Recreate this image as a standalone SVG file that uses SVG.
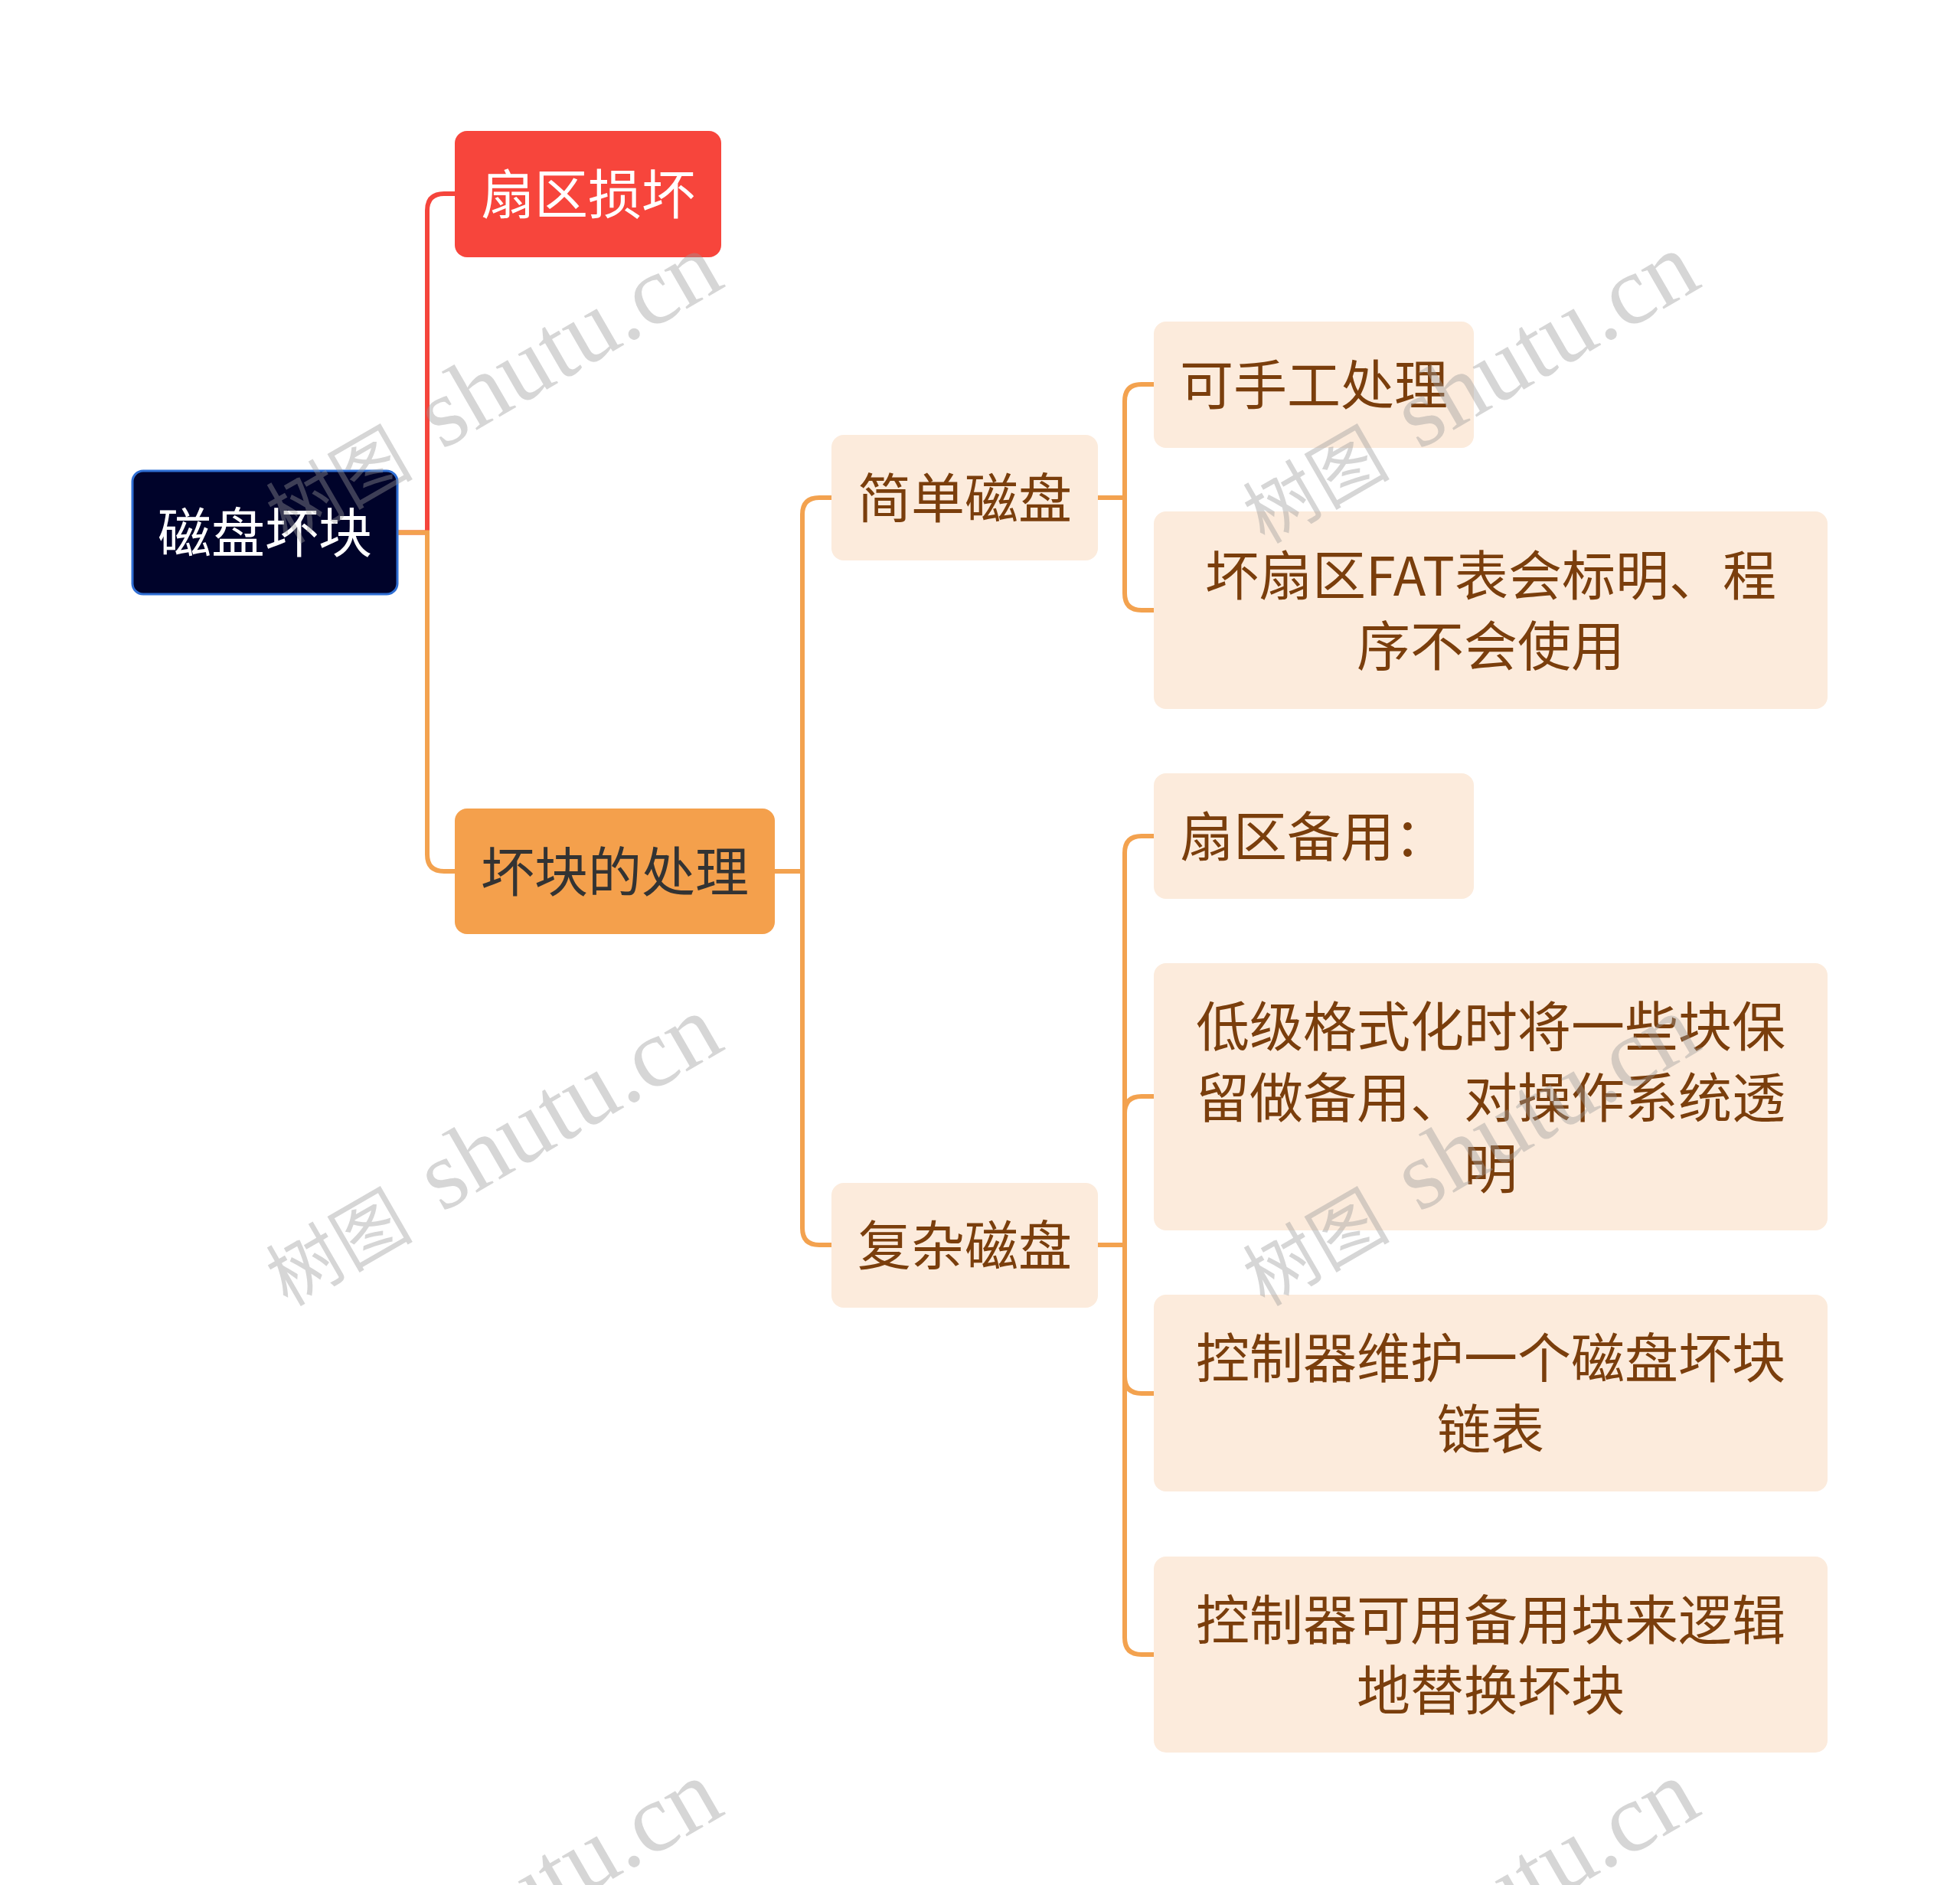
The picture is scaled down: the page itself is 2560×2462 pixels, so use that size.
<svg xmlns="http://www.w3.org/2000/svg" width="2560" height="2462" viewBox="0 0 2560 2462">
<style>
.t{font-family:"Noto Sans CJK SC","Noto Sans",sans-serif;font-size:70px;text-anchor:middle;dominant-baseline:central}
.leaf{fill:#FCEBDC}
.lt{fill:#7A3E0C}
.c{fill:none;stroke:#F3A24F;stroke-width:6}
.wm{fill:#999999;fill-opacity:0.4}
.wmc{font-family:"Liberation Serif","Noto Sans CJK SC",serif;font-size:96px;text-anchor:end}
.wml{font-family:"Liberation Serif",serif;font-size:128px}
</style>
<rect width="2560" height="2462" fill="#ffffff"/>
<g id="connectors">
<path d="M519 695.5 H558 V275 Q558 253 580 253 H594" fill="none" stroke="#F5453C" stroke-width="6"/>
<path class="c" d="M519 695.5 H558 V1116 Q558 1138 580 1138 H594"/>
<path class="c" d="M1012 1138 H1048 V672 Q1048 650 1070 650 H1086"/>
<path class="c" d="M1012 1138 H1048 V1604 Q1048 1626 1070 1626 H1086"/>
<path class="c" d="M1434 650 H1469 V524 Q1469 502 1491 502 H1507"/>
<path class="c" d="M1434 650 H1469 V775 Q1469 797 1491 797 H1507"/>
<path class="c" d="M1434 1626 H1469 V1114 Q1469 1092 1491 1092 H1507"/>
<path class="c" d="M1434 1626 H1469 V1454 Q1469 1432 1491 1432 H1507"/>
<path class="c" d="M1434 1626 H1469 V1798 Q1469 1820 1491 1820 H1507"/>
<path class="c" d="M1434 1626 H1469 V2139 Q1469 2161 1491 2161 H1507"/>
</g>
<g id="root">
<rect x="173" y="615" width="346" height="161" rx="14" fill="#00032A" stroke="#2F6ED3" stroke-width="3"/>
<text class="t" x="346" y="691" fill="#ffffff">磁盘坏块</text>
</g>
<g id="n-sector">
<rect x="594" y="171" width="348" height="165" rx="16" fill="#F7453C"/>
<text class="t" x="768" y="249" fill="#ffffff">扇区损坏</text>
</g>
<g id="n-handle">
<rect x="594" y="1056" width="418" height="164" rx="16" fill="#F4A04C"/>
<text class="t" x="803" y="1134" fill="#333333">坏块的处理</text>
</g>
<g id="n-simple">
<rect class="leaf" x="1086" y="568" width="348" height="164" rx="16"/>
<text class="t lt" x="1260" y="646">简单磁盘</text>
</g>
<g id="n-complex">
<rect class="leaf" x="1086" y="1545" width="348" height="163" rx="16"/>
<text class="t lt" x="1260" y="1622">复杂磁盘</text>
</g>
<g id="n-manual">
<rect class="leaf" x="1507" y="420" width="418" height="165" rx="16"/>
<text class="t lt" x="1716" y="498">可手工处理</text>
</g>
<g id="n-fat">
<rect class="leaf" x="1507" y="668" width="880" height="258" rx="16"/>
<text class="t lt" x="1947" y="747">坏扇区FAT表会标明、程</text>
<text class="t lt" x="1947" y="839">序不会使用</text>
</g>
<g id="n-spare">
<rect class="leaf" x="1507" y="1010" width="418" height="164" rx="16"/>
<text class="t lt" x="1716" y="1088">扇区备用：</text>
</g>
<g id="n-lowfmt">
<rect class="leaf" x="1507" y="1258" width="880" height="349" rx="16"/>
<text class="t lt" x="1947" y="1336">低级格式化时将一些块保</text>
<text class="t lt" x="1947" y="1429">留做备用、对操作系统透</text>
<text class="t lt" x="1947" y="1522">明</text>
</g>
<g id="n-list">
<rect class="leaf" x="1507" y="1691" width="880" height="257" rx="16"/>
<text class="t lt" x="1947" y="1769">控制器维护一个磁盘坏块</text>
<text class="t lt" x="1947" y="1862">链表</text>
</g>
<g id="n-replace">
<rect class="leaf" x="1507" y="2033" width="880" height="256" rx="16"/>
<text class="t lt" x="1947" y="2111">控制器可用备用块来逻辑</text>
<text class="t lt" x="1947" y="2203">地替换坏块</text>
</g>
<g id="watermarks" class="wm">
<g transform="translate(577 588) rotate(-30)"><text class="wmc" x="-44" y="6">树图</text><text class="wml" x="0" y="0">shutu.cn</text></g>
<g transform="translate(1853 588) rotate(-30)"><text class="wmc" x="-44" y="6">树图</text><text class="wml" x="0" y="0">shutu.cn</text></g>
<g transform="translate(577 1584) rotate(-30)"><text class="wmc" x="-44" y="6">树图</text><text class="wml" x="0" y="0">shutu.cn</text></g>
<g transform="translate(1853 1584) rotate(-30)"><text class="wmc" x="-44" y="6">树图</text><text class="wml" x="0" y="0">shutu.cn</text></g>
<g transform="translate(577 2583) rotate(-30)"><text class="wmc" x="-44" y="6">树图</text><text class="wml" x="0" y="0">shutu.cn</text></g>
<g transform="translate(1853 2583) rotate(-30)"><text class="wmc" x="-44" y="6">树图</text><text class="wml" x="0" y="0">shutu.cn</text></g>
</g>
</svg>
